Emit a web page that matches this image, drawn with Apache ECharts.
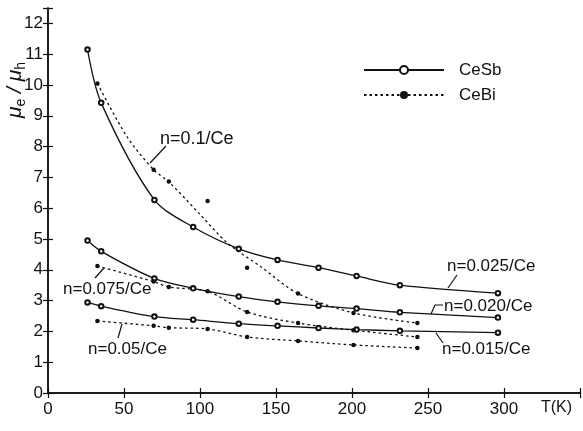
<!DOCTYPE html>
<html>
<head>
<meta charset="utf-8">
<script src="https://cdn.jsdelivr.net/npm/echarts@6/dist/echarts.min.js"></script>
<style>html,body{margin:0;padding:0;background:#fff}#c{width:583px;height:431px}</style>
</head>
<body>
<div id="c"></div>
<script>
// ---- data ----
const xTicks = [0, 50, 100, 150, 200, 250, 300];
const yTicks = [0,1,2,3,4,5,6,7,8,9,10,11,12];

// CeSb (open circles, solid lines)
const cesbT   = [26, 35, 70, 95.5, 125.5, 151, 178, 203, 231.5, 296];
const cesb025 = [11.15, 9.42, 6.27, 5.39, 4.68, 4.32, 4.07, 3.80, 3.50, 3.24];
const cesb020 = [4.95, 4.60, 3.72, 3.40, 3.13, 2.96, 2.83, 2.74, 2.62, 2.45];
const cesb015 = [2.94, 2.82, 2.48, 2.38, 2.25, 2.18, 2.11, 2.06, 2.02, 1.96];

// CeBi (filled dots, dotted lines)
const cebiT   = [32.5, 69.5, 79.5, 105, 131, 164.5, 201, 243];
const cebi10  = [10.05, 7.25, 6.87, 6.23, 4.07, 3.23, 2.60, 2.27];
const cebi075 = [4.12, 3.62, 3.44, 3.30, 2.63, 2.27, 2.04, 1.82];
const cebi05  = [2.34, 2.18, 2.12, 2.08, 1.82, 1.69, 1.56, 1.46];
// drawn guide curve for n=0.1/Ce
const cebi10CurveT = [32.5, 52, 69.5, 80, 100, 118, 140, 164.5, 201, 243];
const cebi10CurveV = [10.05, 8.32, 7.25, 6.83, 5.80, 4.87, 4.10, 3.23, 2.60, 2.27];

const labels = ['n=0.1/Ce','n=0.075/Ce','n=0.05/Ce','n=0.025/Ce','n=0.020/Ce','n=0.015/Ce'];

const pair = (xs, ys) => xs.map((x, i) => [x, ys[i]]);
const INK = '#111';
const FONT = '"Liberation Sans", Arial, sans-serif';

const sbSeries = (data) => ({
  name: 'CeSb', type: 'line', data, smooth: 0.3,
  symbol: 'emptyCircle', symbolSize: 4.5,
  lineStyle: {color: INK, width: 1.3, type: 'solid'},
  itemStyle: {color: INK, borderColor: INK, borderWidth: 1}
});
const biSeries = (data) => ({
  name: 'CeBi', type: 'line', data, smooth: 0.3,
  symbol: 'circle', symbolSize: 4.5,
  lineStyle: {color: INK, width: 1.3, type: [2.5, 3]},
  itemStyle: {color: INK, opacity: 1}
});

const axisCommon = {
  axisLine: {show: true, lineStyle: {color: INK, width: 1.5}},
  axisTick: {show: true, inside: true, length: 5, lineStyle: {color: INK, width: 1.2}},
  splitLine: {show: false}
};

const chart = echarts.init(document.getElementById('c'));
chart.setOption({
  animation: false,
  backgroundColor: '#fff',
  textStyle: {fontFamily: FONT, color: INK},
  grid: {left: 48, right: 3, top: 8, bottom: 38},
  legend: {
    orient: 'vertical', left: 358, top: 55,
    data: ['CeSb', 'CeBi'],
    itemWidth: 80, itemHeight: 10, itemGap: 5,
    selectedMode: false,
    textStyle: {fontFamily: FONT, fontSize: 17, color: INK, lineHeight: 20, padding: [0, 0, 0, 10]}
  },
  xAxis: [
    Object.assign({type: 'value', min: 0, max: 350, interval: 50, position: 'bottom',
      axisLabel: {fontSize: 17, color: INK, margin: 8, fontFamily: FONT,
        formatter: v => xTicks.indexOf(v) >= 0 ? String(v) : ''}}, axisCommon),
    Object.assign({type: 'value', min: 0, max: 350, interval: 50, position: 'top',
      axisLabel: {show: false}}, axisCommon)
  ],
  yAxis: [
    Object.assign({type: 'value', min: 0, max: 12.5, interval: 1, position: 'left',
      axisLabel: {fontSize: 17, color: INK, margin: 5, fontFamily: FONT,
        formatter: v => yTicks.indexOf(v) >= 0 ? String(v) : ''}}, axisCommon),
    Object.assign({type: 'value', min: 0, max: 12.5, interval: 1, position: 'right',
      axisLabel: {show: false}}, axisCommon)
  ],
  series: [
    sbSeries(pair(cesbT, cesb025)),
    sbSeries(pair(cesbT, cesb020)),
    sbSeries(pair(cesbT, cesb015)),
    biSeries(pair(cebiT, cebi075)),
    biSeries(pair(cebiT, cebi05)),
    {
      name: 'CeBi', type: 'line', data: pair(cebi10CurveT, cebi10CurveV), smooth: 0.3,
      showSymbol: false, symbol: 'none',
      lineStyle: {color: INK, width: 1.3, type: [2.5, 3]}
    },
    {
      name: 'CeBi', type: 'scatter', data: pair(cebiT, cebi10),
      symbol: 'circle', symbolSize: 4.5, itemStyle: {color: INK, opacity: 1}
    }
  ],
  graphic: [
    {type: 'text', x: 15, y: 90, rotation: Math.PI / 2,
      style: {text: '{m|μ}{s|e}{m| / μ}{s|h}', align: 'center', verticalAlign: 'middle', fill: INK,
        rich: {m: {fontSize: 21, fontFamily: FONT, fontStyle: 'italic', lineHeight: 26, fill: INK},
               s: {fontSize: 14, fontFamily: FONT, lineHeight: 26, verticalAlign: 'bottom', fill: INK}}}},
    {type: 'text', x: 541, y: 408, style: {text: 'T(K)', fontSize: 16, fontFamily: FONT, fill: INK, verticalAlign: 'middle'}},

    {type: 'text', x: 160, y: 139, style: {text: labels[0], fontSize: 18, fontFamily: FONT, fill: INK, verticalAlign: 'middle'}},
    {type: 'text', x: 63, y: 289, style: {text: labels[1], fontSize: 17, fontFamily: FONT, fill: INK, verticalAlign: 'middle'}},
    {type: 'text', x: 88, y: 349, style: {text: labels[2], fontSize: 17, fontFamily: FONT, fill: INK, verticalAlign: 'middle'}},
    {type: 'text', x: 447, y: 266, style: {text: labels[3], fontSize: 17, fontFamily: FONT, fill: INK, verticalAlign: 'middle'}},
    {type: 'text', x: 444, y: 306, style: {text: labels[4], fontSize: 17, fontFamily: FONT, fill: INK, verticalAlign: 'middle'}},
    {type: 'text', x: 442, y: 349, style: {text: labels[5], fontSize: 17, fontFamily: FONT, fill: INK, verticalAlign: 'middle'}},

    {type: 'polyline', shape: {points: [[166, 146], [150, 163]]}, style: {stroke: INK, lineWidth: 1.2, fill: null}},
    {type: 'polyline', shape: {points: [[104, 268], [95, 278]]}, style: {stroke: INK, lineWidth: 1.2, fill: null}},
    {type: 'polyline', shape: {points: [[122, 324], [118, 338]]}, style: {stroke: INK, lineWidth: 1.2, fill: null}},
    {type: 'polyline', shape: {points: [[457, 275], [448, 288]]}, style: {stroke: INK, lineWidth: 1.2, fill: null}},
    {type: 'polyline', shape: {points: [[443, 305], [435, 305], [431, 314]]}, style: {stroke: INK, lineWidth: 1.2, fill: null}},
    {type: 'polyline', shape: {points: [[436, 333], [443, 343]]}, style: {stroke: INK, lineWidth: 1.2, fill: null}}
  ]
});
</script>
</body>
</html>
